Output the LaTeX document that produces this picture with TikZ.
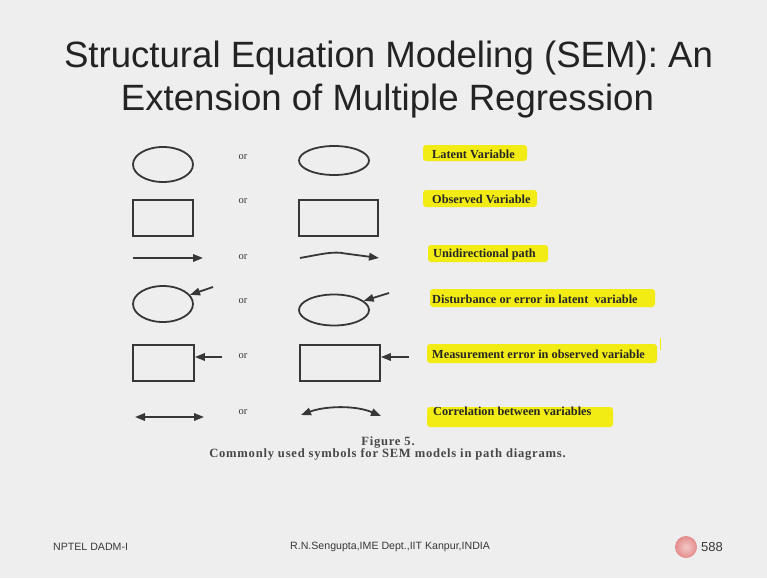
\documentclass[tikz,border=0pt]{standalone}
\usepackage{fontspec}
\setmainfont{Liberation Serif}
\newfontfamily\sansfont{Liberation Sans}
\usetikzlibrary{arrows.meta,shapes.geometric}
\definecolor{bg}{RGB}{238,238,238}
\definecolor{ink}{RGB}{55,55,55}
\definecolor{titlec}{RGB}{35,35,35}
\definecolor{hl}{RGB}{242,236,20}
\definecolor{pinkc}{RGB}{228,140,140}
\definecolor{pinkl}{RGB}{245,200,200}
\begin{document}
\begin{tikzpicture}[x=1pt,y=-1pt,
  shp/.style={draw=ink,line width=1.8pt},
  oval/.style={shp,ellipse,inner sep=0pt},
  box/.style={shp,rectangle,inner sep=0pt},
  arr/.style={draw=ink,line width=1.8pt,-{Triangle[length=10pt,width=7.5pt]}},
  darr/.style={draw=ink,line width=1.8pt,{Triangle[length=10pt,width=7.5pt]}-{Triangle[length=10pt,width=7.5pt]}},
  ortxt/.style={font=\fontsize{10.5}{12}\selectfont,text=ink,inner sep=0pt},
  lbl/.style={font=\bfseries\fontsize{12.3}{14}\selectfont,text=black!85,anchor=west,inner sep=0pt},
  hlfill/.style={fill=hl,rounded corners=3pt},
  ttl/.style={font=\sansfont\fontsize{36.6}{40}\selectfont,text=titlec,inner sep=0pt,anchor=base},
  captxt/.style={font=\fontsize{12.6}{14}\selectfont\addfontfeature{LetterSpace=6}\bfseries,text=black!72,inner sep=0pt,anchor=base},
  foot/.style={font=\sansfont\fontsize{10.6}{12}\selectfont,text=black!78,inner sep=0pt,anchor=west}
]
\useasboundingbox (0,0) rectangle (767,578);
\fill[bg] (0,0) rectangle (767,578);

% title
\node[ttl] (t1) at (388.5,67) {Structural Equation Modeling (SEM): An};
\node[ttl] (t2) at (387.5,110) {Extension of Multiple Regression};

% highlights
\fill[hlfill] (423,145) rectangle (527,161);
\fill[hlfill] (423,190) rectangle (537,207);
\fill[hlfill] (428,245) rectangle (548,262);
\fill[hlfill] (430,289) rectangle (655,307);
\fill[hlfill] (427,344) rectangle (657,363);
\fill[hlfill] (427,407) rectangle (613,427);
\draw[hl,line width=1pt] (660,338) -- (660,350);

% labels
\node[lbl] (l1) at (432,154) {Latent Variable};
\node[lbl] (l2) at (432,199.5) {Observed Variable};
\node[lbl] (l3) at (433,255) {Unidirectional path};
\node[lbl] (l4) at (432,299) {Disturbance or error in latent\ \ variable};
\node[lbl] (l5) at (432,354) {Measurement error in observed variable};
\node[lbl] (l6) at (433,411.5) {Correlation between variables};

% "or"
\node[ortxt] (o1) at (243,157) {or};
\node[ortxt] (o2) at (243,201) {or};
\node[ortxt] (o3) at (243,257) {or};
\node[ortxt] (o4) at (243,301) {or};
\node[ortxt] (o5) at (243,356) {or};
\node[ortxt] (o6) at (243,412) {or};

% row 1: latent variable
\node[oval,minimum width=60pt,minimum height=35pt] (L1) at (163,164.5) {};
\node[oval,minimum width=70pt,minimum height=29pt] (R1) at (334,160.5) {};

% row 2: observed variable
\node[box,minimum width=60pt,minimum height=36pt] (L2) at (163,218) {};
\node[box,minimum width=79pt,minimum height=36pt] (R2) at (338.5,218) {};

% row 3: unidirectional path
\coordinate (a3s) at (133,258);
\coordinate (a3e) at (203,258);
\draw[arr] (a3s) -- (a3e);
\coordinate (b3s) at (300,258);
\coordinate (b3e) at (379,258);
\draw[arr] (b3s) .. controls (322,254) and (334,251) .. (345,253.5) -- (b3e);

% row 4: disturbance
\node[oval,minimum width=60pt,minimum height=36pt] (L4) at (163,304) {};
\coordinate (e4l) at (213,287);
\draw[arr] (e4l) -- (L4);
\node[oval,minimum width=70pt,minimum height=31pt] (R4) at (334,310) {};
\coordinate (e4r) at (389,293);
\draw[arr] (e4r) -- (R4);

% row 5: measurement error
\node[box,minimum width=61pt,minimum height=36pt] (L5) at (163.5,363) {};
\coordinate (e5l) at (222,357);
\draw[arr] (e5l) -- (e5l -| L5.east);
\node[box,minimum width=80pt,minimum height=36pt] (R5) at (340,363) {};
\coordinate (e5r) at (409,357);
\draw[arr] (e5r) -- (e5r -| R5.east);

% row 6: correlation
\coordinate (c6a) at (135,417);
\coordinate (c6b) at (204,417);
\draw[darr] (c6a) -- (c6b);
\coordinate (d6a) at (301,415);
\coordinate (d6b) at (381,416);
\draw[darr] (d6a) .. controls (325,406) and (355,405) .. (d6b);

% caption
\node[captxt] (f1) at (388,445) {Figure 5.};
\node[captxt] (f2) at (387.5,457) {Commonly used symbols for SEM models in path diagrams.};

% footer
\node[foot] (n1) at (53,547) {NPTEL DADM-I};
\node[foot] (n2) at (290,547) {R.N.Sengupta,IME Dept.,IIT Kanpur,INDIA};
\node[circle,inner color=pinkl,outer color=pinkc,minimum size=22pt,inner sep=0pt] (pc) at (686,547) {};
\node[foot,font=\sansfont\fontsize{13}{15}\selectfont] (pg) at (701,547) {588};
\end{tikzpicture}
\end{document}
